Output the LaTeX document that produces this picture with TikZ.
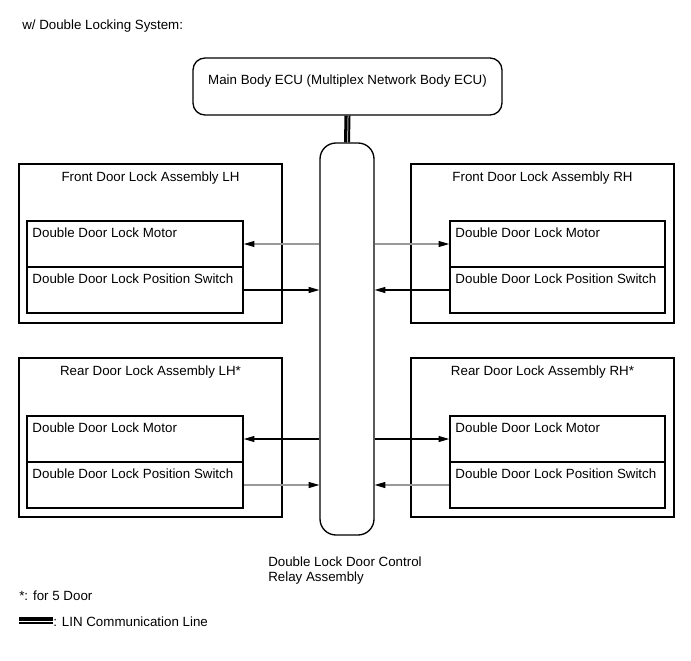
\documentclass[tikz,border=0pt]{standalone}
\usepackage{fontspec}
\setmainfont{Liberation Sans}
\usetikzlibrary{fit,arrows.meta}
\begin{document}
\begin{tikzpicture}[x=0.75pt,y=-0.75pt,
  outerbox/.style={draw, line width=0.9pt, inner sep=0pt},
  innerbox/.style={draw, line width=1.2pt, inner sep=0pt},
  pill/.style={draw, line width=1pt, inner sep=0pt, rounded corners=12pt},
  txt/.style={font=\fontsize{10}{12}\selectfont, inner sep=0pt, anchor=base west},
  ttl/.style={font=\fontsize{10}{12}\selectfont, inner sep=0pt, anchor=base},
  sig/.style={line width=0.8pt, -{Triangle[length=8pt,width=4.5pt,color=black]}},
  sigg/.style={sig, draw=black!40},
]
\useasboundingbox (0,0) rectangle (691,660);

\node[txt] (hdr) at (22,30) {w/ Double Locking System:};

% Main body ECU
\node[pill, rounded corners=9pt, fit={(193,58) (502,115)}] (ecu) {};
\node[ttl] (ecut) at ([yshift=-20.25pt]ecu.north) {Main Body ECU (Multiplex Network Body ECU)};

% Relay
\node[pill, fit={(320,143) (374,535)}] (relay) {};
\node[txt] (rl1) at (268,566) {Double Lock Door Control};
\node[txt] (rl2) at (268,581) {Relay Assembly};

% LIN line
\draw[line width=4.5pt] (ecu.south) -- (relay.north);
\draw[line width=0.75pt, draw=black!35] ([xshift=0.4pt]ecu.south) -- ([xshift=0.4pt]relay.north);

% Front LH
\node[outerbox, fit={(19,164) (282,323)}] (flo) {};
\node[ttl] at ([yshift=-13.5pt]flo.north) {Front Door Lock Assembly LH};
\node[innerbox, fit={(27,221) (243,267)}] (flm) {};
\node[innerbox, fit={(27,267) (243,313)}] (fls) {};
\node[txt] at ([xshift=4.5pt,yshift=-12.75pt]flm.north west) {Double Door Lock Motor};
\node[txt] at ([xshift=4.5pt,yshift=-12.75pt]fls.north west) {Double Door Lock Position Switch};

% Front RH
\node[outerbox, fit={(411,164) (674,323)}] (fro) {};
\node[ttl] at ([yshift=-13.5pt]fro.north) {Front Door Lock Assembly RH};
\node[innerbox, fit={(450,221) (665,267)}] (frm) {};
\node[innerbox, fit={(450,267) (665,313)}] (frs) {};
\node[txt] at ([xshift=4.5pt,yshift=-12.75pt]frm.north west) {Double Door Lock Motor};
\node[txt] at ([xshift=4.5pt,yshift=-12.75pt]frs.north west) {Double Door Lock Position Switch};

% Rear LH
\node[outerbox, fit={(19,358) (282,517)}] (rlo) {};
\node[ttl] at ([yshift=-13.5pt]rlo.north) {Rear Door Lock Assembly LH*};
\node[innerbox, fit={(27,416) (243,462)}] (rlm) {};
\node[innerbox, fit={(27,462) (243,508)}] (rls) {};
\node[txt] at ([xshift=4.5pt,yshift=-12.75pt]rlm.north west) {Double Door Lock Motor};
\node[txt] at ([xshift=4.5pt,yshift=-12.75pt]rls.north west) {Double Door Lock Position Switch};

% Rear RH
\node[outerbox, fit={(411,358) (674,517)}] (rro) {};
\node[ttl] at ([yshift=-13.5pt]rro.north) {Rear Door Lock Assembly RH*};
\node[innerbox, fit={(450,416) (665,462)}] (rrm) {};
\node[innerbox, fit={(450,462) (665,508)}] (rrs) {};
\node[txt] at ([xshift=4.5pt,yshift=-12.75pt]rrm.north west) {Double Door Lock Motor};
\node[txt] at ([xshift=4.5pt,yshift=-12.75pt]rrs.north west) {Double Door Lock Position Switch};

% Signal arrows
\draw[sigg] (relay.west |- flm.east) -- (flm.east);
\draw[sig] (fls.east) -- (relay.west |- fls.east);
\draw[sigg] (relay.east |- frm.west) -- (frm.west);
\draw[sig] (frs.west) -- (relay.east |- frs.west);
\draw[sig] (relay.west |- rlm.east) -- (rlm.east);
\draw[sigg] (rls.east) -- (relay.west |- rls.east);
\draw[sig] (relay.east |- rrm.west) -- (rrm.west);
\draw[sigg] (rrs.west) -- (relay.east |- rrs.west);

% Notes / legend
\node[txt] (note) at (19,600) {*: for 5 Door};
\coordinate (lg1) at (19,620.3);
\coordinate (lg2) at (53,620.3);
\draw[line width=4.8pt] (lg1) -- (lg2);
\draw[line width=0.75pt, draw=white] ([yshift=-0.6pt]lg1) -- ([yshift=-0.6pt]lg2);
\node[txt] (lgt) at (53,626) {: LIN Communication Line};
\end{tikzpicture}
\end{document}
